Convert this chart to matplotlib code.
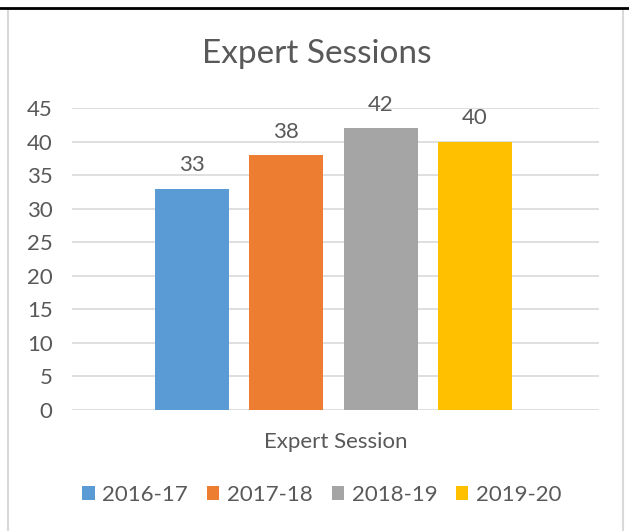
import matplotlib.pyplot as plt
from matplotlib.patches import Rectangle
from matplotlib.lines import Line2D

# data
years = ['2016-17', '2017-18', '2018-19', '2019-20']
sessions = [33, 38, 42, 40]
colors = ['#5B9BD5', '#ED7D31', '#A5A5A5', '#FFC000']
category = 'Expert Session'

txt = '#595959'
plt.rcParams['font.family'] = ['Lato', 'DejaVu Sans']

fig = plt.figure(figsize=(6.29, 5.31), dpi=100)
W, H = 629, 531

# outer chart border + black line on top
fig.add_artist(Rectangle((8 / W, -0.01), (623 - 8) / W, 1 - 9 / H + 0.01,
                         transform=fig.transFigure, fill=False,
                         edgecolor='#D9D9D9', linewidth=1.5))
fig.add_artist(Line2D([0, 628 / W], [1 - 8 / H, 1 - 8 / H],
                      transform=fig.transFigure, color='black', linewidth=2))

ax = fig.add_axes([72 / W, (H - 410) / H, (599 - 72) / W, (410 - 108) / H])

bw = 0.1404
step = 0.1793
for i, (yr, v, c) in enumerate(zip(years, sessions, colors)):
    x = (i - 1.5) * step - 0.004
    ax.bar(x, v, width=bw, color=c, label=yr, zorder=3)
    ax.text(x, v + 2.0, str(v), ha='center', va='bottom', fontsize=16, color=txt)

ax.set_xlim(-0.5, 0.5)
ax.set_ylim(0, 45)
ax.set_yticks(range(0, 46, 5))
ax.set_xticks([])
ax.grid(axis='y', color='#D9D9D9', linewidth=1.2, zorder=0)
for s in ax.spines.values():
    s.set_visible(False)
ax.tick_params(axis='y', length=0, labelsize=16, labelcolor=txt, pad=14)

ax.set_xlabel(category, fontsize=16, color=txt, labelpad=16)
fig.text(317 / W, 1 - 54 / H, 'Expert Sessions', ha='center', va='center',
         fontsize=24, color=txt)

leg = fig.legend(loc='center', bbox_to_anchor=(322 / W, 1 - 495 / H), ncol=4,
                 frameon=False, fontsize=16, handlelength=0.55, handleheight=0.55,
                 handletextpad=0.35, columnspacing=0.85)
for t in leg.get_texts():
    t.set_color(txt)

fig.savefig('out.png', dpi=100)
